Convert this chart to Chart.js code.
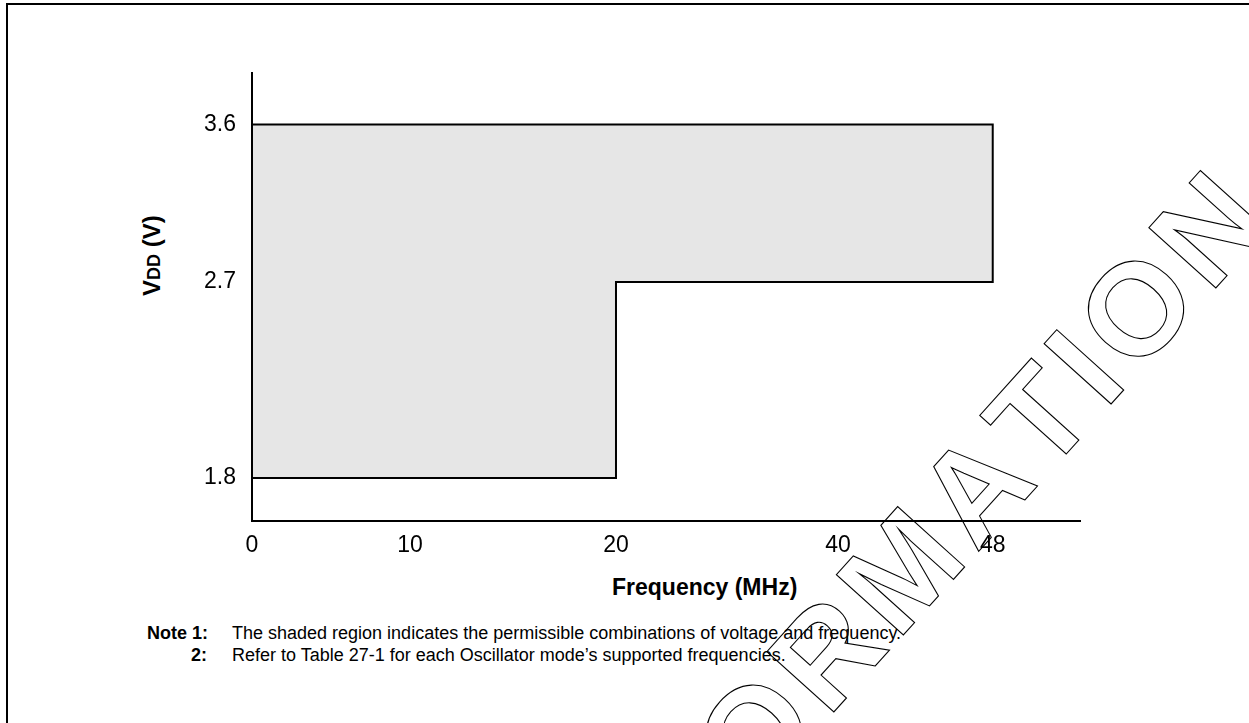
<!DOCTYPE html>
<html>
<head>
<meta charset="utf-8">
<script src="https://cdn.jsdelivr.net/npm/chart.js@4.4.0/dist/chart.umd.min.js"></script>
<style>
html,body{margin:0;padding:0;background:#fff;}
body{width:1249px;height:723px;position:relative;overflow:hidden;font-family:"Liberation Sans",Arial,Helvetica,sans-serif;color:#000;}
#frame{position:absolute;left:6px;top:3px;width:1400px;height:900px;border-left:2px solid #000;border-top:2px solid #000;}
#wrap{position:absolute;left:0;top:0;width:1249px;height:723px;z-index:2;}
.txt{position:absolute;white-space:nowrap;z-index:1;}
.note{font-size:18px;line-height:18px;}
.b{font-weight:bold;}
#xtitle{left:612px;top:576px;font-size:23px;line-height:23px;font-weight:bold;}
#ytitle{left:0;top:0;font-size:24px;line-height:24px;font-weight:bold;transform-origin:0 0;transform:translate(140px,296px) rotate(-90deg);}
#ytitle .sub{font-size:18px;}
</style>
</head>
<body>
<div id="frame"></div>
<div class="txt" id="xtitle">Frequency (MHz)</div>
<div class="txt" id="ytitle">V<span class="sub">DD</span> (V)</div>
<div class="txt note b" style="left:147px;top:624px;">Note 1:</div>
<div class="txt note" id="n1" style="left:232px;top:624px;">The shaded region indicates the permissible combinations of voltage and frequency.</div>
<div class="txt note b" style="left:191px;top:646px;">2:</div>
<div class="txt note" id="n2" style="left:232px;top:646px;">Refer to Table 27-1 for each Oscillator mode’s supported frequencies.</div>
<div id="wrap"><canvas id="c" width="1249" height="723"></canvas></div>
<script>
// ---- data ----
const freqTicks = [0, 10, 20, 40, 48];           // MHz tick labels
const vddTicks = [1.8, 2.7, 3.6];                 // V tick labels
const regionFreq = [0, 20, 20, 48, 48, 0, 0];     // shaded region vertices (MHz)
const regionVdd = [1.8, 1.8, 2.7, 2.7, 3.6, 3.6, 1.8]; // shaded region vertices (V)

// ---- axis layout (the figure's axes are not drawn to scale) ----
const AXIS_LAYOUT = {
  x: { values: [0, 10, 20, 40, 48, 54], fractions: [0, 0.1908, 0.4396, 0.7077, 0.8946, 1] },
  y: { values: [1.5, 1.8, 2.7, 3.6, 4.0], fractions: [0, 0.096, 0.5335, 0.885, 1] }
};

class PiecewiseScale extends Chart.LinearScale {
  _toFrac(v) {
    const k = AXIS_LAYOUT[this.axis];
    const vs = k.values, fs = k.fractions;
    if (v <= vs[0]) return fs[0] + (v - vs[0]) * (fs[1] - fs[0]) / (vs[1] - vs[0]);
    for (let i = 1; i < vs.length; i++) {
      if (v <= vs[i]) return fs[i-1] + (v - vs[i-1]) * (fs[i] - fs[i-1]) / (vs[i] - vs[i-1]);
    }
    const n = vs.length - 1;
    return fs[n] + (v - vs[n]) * (fs[n] - fs[n-1]) / (vs[n] - vs[n-1]);
  }
  _fromFrac(f) {
    const k = AXIS_LAYOUT[this.axis];
    const vs = k.values, fs = k.fractions;
    for (let i = 1; i < fs.length; i++) {
      if (f <= fs[i] || i === fs.length - 1) return vs[i-1] + (f - fs[i-1]) * (vs[i] - vs[i-1]) / (fs[i] - fs[i-1]);
    }
    return vs[vs.length - 1];
  }
  getPixelForValue(value) {
    if (value === null || value === undefined || isNaN(value)) return NaN;
    return this.getPixelForDecimal(this._toFrac(value));
  }
  getValueForPixel(pixel) {
    return this._fromFrac(this.getDecimalForPixel(pixel));
  }
}
PiecewiseScale.id = 'piecewise';
PiecewiseScale.defaults = Chart.LinearScale.defaults;
Chart.register(PiecewiseScale);

const FONT = '"Liberation Sans", Arial, Helvetica, sans-serif';

const watermark = {
  id: 'watermark',
  afterDraw(chart) {
    const ctx = chart.ctx;
    const txt = 'PRELIMINARY INFORMATION';
    const anchorIndex = 20;   // the "I" between T and O
    const track = 9;
    ctx.save();
    ctx.font = 'bold 131px ' + FONT;
    ctx.strokeStyle = '#000';
    ctx.lineWidth = 1.1;
    ctx.textBaseline = 'alphabetic';
    ctx.textAlign = 'left';
    const chars = [...txt];
    const widths = chars.map(ch => ctx.measureText(ch).width);
    let xI = 0;
    for (let i = 0; i < anchorIndex; i++) xI += widths[i] + track;
    ctx.translate(1117.5, 397);
    ctx.rotate(-48 * Math.PI / 180);
    let x = -(xI + widths[anchorIndex] / 2);
    chars.forEach((ch, i) => { ctx.strokeText(ch, x, 0); x += widths[i] + track; });
    ctx.restore();
  }
};

new Chart(document.getElementById('c'), {
  type: 'scatter',
  data: {
    datasets: [{
      data: regionFreq.map((f, i) => ({ x: f, y: regionVdd[i] })),
      showLine: true,
      fill: 'shape',
      backgroundColor: '#e6e6e6',
      borderColor: '#000',
      borderWidth: 2,
      pointRadius: 0,
      tension: 0
    }]
  },
  options: {
    responsive: false,
    animation: false,
    devicePixelRatio: 1,
    layout: { padding: { top: 73, right: 169, left: 0, bottom: 0 } },
    plugins: { legend: { display: false }, tooltip: { enabled: false } },
    scales: {
      x: {
        type: 'piecewise', min: 0, max: 54,
        grid: { display: false, drawTicks: false },
        border: { display: true, color: '#000', width: 2 },
        afterBuildTicks: s => { s.ticks = freqTicks.map(v => ({ value: v })); },
        afterFit: s => { s.height = 202; },
        ticks: { color: '#000', font: { family: FONT, size: 23 }, padding: 11, maxRotation: 0, autoSkip: false,
                 callback: v => String(v) }
      },
      y: {
        type: 'piecewise', min: 1.5, max: 4.0,
        grid: { display: false, drawTicks: false },
        border: { display: true, color: '#000', width: 2 },
        afterBuildTicks: s => { s.ticks = vddTicks.map(v => ({ value: v })); },
        afterFit: s => { s.width = 252; },
        ticks: { color: '#000', font: { family: FONT, size: 23 }, padding: 16, autoSkip: false,
                 callback: v => String(v) }
      }
    }
  },
  plugins: [watermark]
});
</script>
</body>
</html>
